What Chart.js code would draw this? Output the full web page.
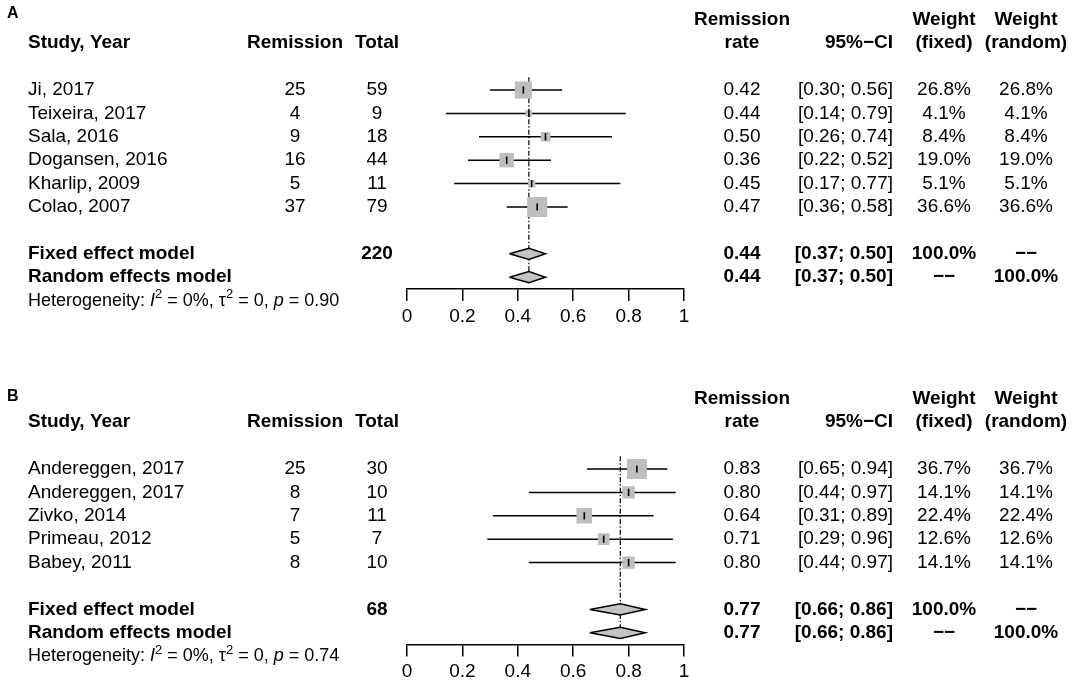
<!DOCTYPE html>
<html><head><meta charset="utf-8">
<script src="https://cdn.jsdelivr.net/npm/chart.js@4.4.1/dist/chart.umd.min.js"></script>
<style>
html,body{margin:0;padding:0;background:#fff;}
.panel{position:absolute;left:0;width:1072px;height:345px;}
canvas{display:block;}
</style></head><body>
<div class="panel" style="top:0"><canvas id="chartA" width="1072" height="345"></canvas></div>
<div class="panel" style="top:345px"><canvas id="chartB" width="1072" height="345"></canvas></div>
<script>
// ---------------- DATA (panel A) ----------------
const studiesA   = ["Ji, 2017", "Teixeira, 2017", "Sala, 2016", "Dogansen, 2016", "Kharlip, 2009", "Colao, 2007"];
const remissionA = [25, 4, 9, 16, 5, 37];
const totalA     = [59, 9, 18, 44, 11, 79];
const rateA      = [0.42, 0.44, 0.50, 0.36, 0.45, 0.47];
const lowerA     = [0.30, 0.14, 0.26, 0.22, 0.17, 0.36];
const upperA     = [0.56, 0.79, 0.74, 0.52, 0.77, 0.58];
const wFixedA    = [26.8, 4.1, 8.4, 19.0, 5.1, 36.6];
const wRandomA   = [26.8, 4.1, 8.4, 19.0, 5.1, 36.6];
const pooledTotalA = 220;
const fixedA     = [0.44, 0.37, 0.50];   // estimate, lower, upper
const randomA    = [0.44, 0.37, 0.50];
const hetA       = ["0%", "0", "0.90"];  // I^2, tau^2, p

// ---------------- DATA (panel B) ----------------
const studiesB   = ["Andereggen, 2017", "Andereggen, 2017", "Zivko, 2014", "Primeau, 2012", "Babey, 2011"];
const remissionB = [25, 8, 7, 5, 8];
const totalB     = [30, 10, 11, 7, 10];
const rateB      = [0.83, 0.80, 0.64, 0.71, 0.80];
const lowerB     = [0.65, 0.44, 0.31, 0.29, 0.44];
const upperB     = [0.94, 0.97, 0.89, 0.96, 0.97];
const wFixedB    = [36.7, 14.1, 22.4, 12.6, 14.1];
const wRandomB   = [36.7, 14.1, 22.4, 12.6, 14.1];
const pooledTotalB = 68;
const fixedB     = [0.77, 0.66, 0.86];
const randomB    = [0.77, 0.66, 0.86];
const hetB       = ["0%", "0", "0.74"];

const xTicks = [0, 0.2, 0.4, 0.6, 0.8, 1];

// ---------------- LAYOUT / STYLE ----------------
const FONT = '"Liberation Sans", Arial, Helvetica, sans-serif';
const FS = 19, FS_HET = 18, FS_LETTER = 16;
const ROW_H = 23.4;
const AXIS_H = 40;
const X0PX = 407, X1PX = 684;
const CANVAS_H = 345;
const COL = {study: 28, remission: 295, total: 377, rate: 742, ciRight: 893, wFixed: 944, wRandom: 1026};
const SQ_K = 3.3;           // px of square side per sqrt(weight %)
const GREY = '#bebebe';
const DIAMOND_H = 0.24;     // half height in rows

function f2(v){ return v.toFixed(2); }
function fw(v){ return v === null ? '\u2212\u2212' : v.toFixed(1) + '%'; }
function ci(l, u){ return '[' + f2(l) + '; ' + f2(u) + ']'; }

function buildPanel(canvasId, p) {
  const n = p.studies.length;
  const fixedRow = n + 1, randomRow = n + 2, hetRow = n + 3, axisRow = n + 2.5;
  const yMin = -p.firstRowPx / ROW_H;
  const areaBottom = p.firstRowPx + axisRow * ROW_H;
  const padBottom = CANVAS_H - areaBottom - AXIS_H;

  const datasets = [];
  // estimate ticks (top)
  datasets.push({
    order: 0, showLine: false,
    data: p.rate.map((r, i) => ({x: r, y: i})),
    pointStyle: 'line', pointRotation: 90, pointRadius: 3.6,
    pointBorderColor: '#000', pointBorderWidth: 1.6, pointBackgroundColor: '#000'
  });
  // weight squares
  datasets.push({
    order: 1, showLine: false,
    data: p.rate.map((r, i) => ({x: r, y: i})),
    pointStyle: 'rect',
    pointRadius: ctx => SQ_K * Math.sqrt(p.wFixed[ctx.dataIndex]) / Math.SQRT2,
    pointBackgroundColor: GREY, pointBorderColor: GREY, pointBorderWidth: 0
  });
  // confidence intervals
  p.lower.forEach((l, i) => {
    datasets.push({
      order: 2, showLine: true, fill: false,
      data: [{x: l, y: i}, {x: p.upper[i], y: i}],
      borderColor: '#000', borderWidth: 1.5, pointRadius: 0
    });
  });
  // diamonds
  [[p.fixed, fixedRow], [p.random, randomRow]].forEach(([m, row]) => {
    datasets.push({
      order: 3, showLine: true, fill: 'shape', tension: 0,
      data: [{x: m[1], y: row}, {x: m[0], y: row - DIAMOND_H}, {x: m[2], y: row},
             {x: m[0], y: row + DIAMOND_H}, {x: m[1], y: row}],
      borderColor: '#000', borderWidth: 1.5, backgroundColor: '#c4c4c4', pointRadius: 0
    });
  });
  // reference line at pooled estimate (fixed dashed + random dotted overlay)
  datasets.push({
    order: 4, showLine: true, fill: false,
    data: [{x: p.fixed[0], y: -0.55}, {x: p.fixed[0], y: axisRow - 0.25}],
    borderColor: '#000', borderWidth: 1.2, borderDash: [5, 2, 1.5, 2], pointRadius: 0
  });

  const textPlugin = {
    id: 'forestText',
    afterDraw(chart) {
      const ctx = chart.ctx, ys = chart.scales.y;
      const Y = r => ys.getPixelForValue(r);
      ctx.save();
      ctx.fillStyle = '#000';
      ctx.textBaseline = 'middle';
      const put = (t, x, y, align, bold, size) => {
        ctx.font = (bold ? 'bold ' : '') + (size || FS) + 'px ' + FONT;
        ctx.textAlign = align;
        ctx.fillText(t, x, y);
      };
      // panel letter
      put(p.letter, 7, p.letterY, 'left', true, FS_LETTER);
      // headers
      put('Study, Year', COL.study, Y(-2), 'left', true);
      put('Remission', COL.remission, Y(-2), 'center', true);
      put('Total', COL.total, Y(-2), 'center', true);
      put('Remission', COL.rate, Y(-3), 'center', true);
      put('rate', COL.rate, Y(-2), 'center', true);
      put('95%\u2212CI', COL.ciRight, Y(-2), 'right', true);
      put('Weight', COL.wFixed, Y(-3), 'center', true);
      put('(fixed)', COL.wFixed, Y(-2), 'center', true);
      put('Weight', COL.wRandom, Y(-3), 'center', true);
      put('(random)', COL.wRandom, Y(-2), 'center', true);
      // study rows
      p.studies.forEach((s, i) => {
        const y = Y(i);
        put(s, COL.study, y, 'left', false);
        put(String(p.remission[i]), COL.remission, y, 'center', false);
        put(String(p.total[i]), COL.total, y, 'center', false);
        put(f2(p.rate[i]), COL.rate, y, 'center', false);
        put(ci(p.lower[i], p.upper[i]), COL.ciRight, y, 'right', false);
        put(fw(p.wFixed[i]), COL.wFixed, y, 'center', false);
        put(fw(p.wRandom[i]), COL.wRandom, y, 'center', false);
      });
      // pooled rows
      let y = Y(fixedRow);
      put('Fixed effect model', COL.study, y, 'left', true);
      put(String(p.pooledTotal), COL.total, y, 'center', true);
      put(f2(p.fixed[0]), COL.rate, y, 'center', true);
      put(ci(p.fixed[1], p.fixed[2]), COL.ciRight, y, 'right', true);
      put(fw(100.0), COL.wFixed, y, 'center', true);
      put(fw(null), COL.wRandom, y, 'center', true);
      y = Y(randomRow);
      put('Random effects model', COL.study, y, 'left', true);
      put(f2(p.random[0]), COL.rate, y, 'center', true);
      put(ci(p.random[1], p.random[2]), COL.ciRight, y, 'right', true);
      put(fw(null), COL.wFixed, y, 'center', true);
      put(fw(100.0), COL.wRandom, y, 'center', true);
      // heterogeneity line
      y = Y(hetRow);
      const segs = [
        {t: 'Heterogeneity: '}, {t: 'I', it: true}, {t: '2', sup: true},
        {t: ' = ' + p.het[0] + ', '}, {t: '\u03c4'}, {t: '2', sup: true},
        {t: ' = ' + p.het[1] + ', '}, {t: 'p', it: true}, {t: ' = ' + p.het[2]}
      ];
      let x = COL.study;
      ctx.textAlign = 'left';
      segs.forEach(sg => {
        const size = sg.sup ? 13 : FS_HET;
        ctx.font = (sg.it ? 'italic ' : '') + size + 'px ' + FONT;
        ctx.fillText(sg.t, x, sg.sup ? y - 6 : y);
        x += ctx.measureText(sg.t).width;
      });
      ctx.restore();
    }
  };

  return new Chart(document.getElementById(canvasId), {
    type: 'scatter',
    data: {datasets},
    plugins: [textPlugin],
    options: {
      responsive: false, animation: false, events: [],
      layout: {autoPadding: false, padding: {left: X0PX, right: 1072 - X1PX, top: 0, bottom: padBottom}},
      plugins: {legend: {display: false}, tooltip: {enabled: false}, title: {display: false}},
      scales: {
        x: {
          type: 'linear', position: 'bottom', min: xTicks[0], max: xTicks[xTicks.length - 1],
          afterFit: s => { s.height = AXIS_H; },
          afterBuildTicks: s => { s.ticks = xTicks.map(v => ({value: v})); },
          ticks: {color: '#000', font: {family: FONT, size: FS}, padding: 4, maxRotation: 0,
                  autoSkip: false, callback: v => String(v)},
          grid: {display: true, drawOnChartArea: false, drawTicks: true, tickLength: 12,
                 color: '#000', lineWidth: 1.5},
          border: {display: true, color: '#000', width: 1.5}
        },
        y: {type: 'linear', reverse: true, min: yMin, max: axisRow, display: false}
      }
    }
  });
}

buildPanel('chartA', {
  letter: 'A', letterY: 14, firstRowPx: 90,
  studies: studiesA, remission: remissionA, total: totalA, rate: rateA,
  lower: lowerA, upper: upperA, wFixed: wFixedA, wRandom: wRandomA,
  pooledTotal: pooledTotalA, fixed: fixedA, random: randomA, het: hetA
});
buildPanel('chartB', {
  letter: 'B', letterY: 52, firstRowPx: 124,
  studies: studiesB, remission: remissionB, total: totalB, rate: rateB,
  lower: lowerB, upper: upperB, wFixed: wFixedB, wRandom: wRandomB,
  pooledTotal: pooledTotalB, fixed: fixedB, random: randomB, het: hetB
});
</script>
</body></html>
